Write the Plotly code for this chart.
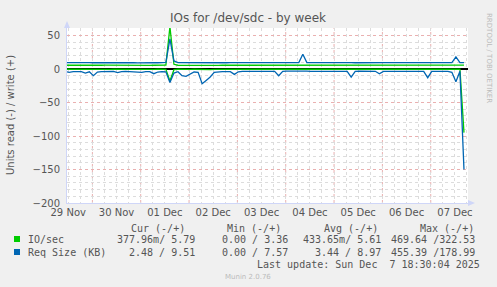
import pandas as pd
import plotly.graph_objects as go

# ---- data (2-hour samples ending 2025-12-07 18:30; last sample not yet available) ----
times = pd.date_range(end="2025-12-07 18:30", periods=101, freq="2h")

io_write = [5.6, 5.5, 5.7, 5.6, 5.5, 5.6, 5.8, 5.6, 5.5, 5.6,
            5.7, 5.6, 5.5, 5.6, 5.7, 5.6, 5.5, 5.6, 5.6, 5.7,
            5.6, 5.5, 5.6, 5.7, 5.6, 5.8, 63.0, 7.0, 5.6, 5.5,
            5.6, 5.7, 5.5, 5.6, 5.6, 5.5, 5.7, 5.6, 5.5, 5.6,
            5.6, 5.7, 5.6, 5.5, 5.6, 5.6, 5.7, 5.5, 5.6, 5.6,
            5.5, 5.6, 5.7, 5.6, 5.6, 5.5, 5.6, 5.7, 5.6, 5.6,
            5.7, 5.6, 5.5, 5.6, 5.6, 5.7, 5.6, 5.5, 5.6, 5.6,
            5.6, 5.5, 5.7, 5.6, 5.6, 5.5, 5.6, 5.6, 5.7, 5.6,
            5.5, 5.6, 5.6, 5.7, 5.6, 5.5, 5.6, 5.6, 5.7, 5.6,
            5.6, 5.5, 5.6, 5.7, 5.6, 5.6, 5.5, 6.0, 5.6, 5.79, None]

io_read = [-0.4, -0.5, -0.4, -0.4, -0.5, -0.6, -0.4, -0.8, -0.4, -0.4,
           -0.4, -0.5, -0.4, -0.5, -0.4, -0.4, -0.4, -0.5, -0.4, -0.5,
           -0.4, -0.4, -0.6, -0.4, -0.4, -0.5, -18.0, -1.0, -0.4, -0.8,
           -0.9, -0.6, -0.4, -0.5, -1.5, -1.2, -0.9, -0.5, -0.4, -0.4,
           -0.4, -0.4, -0.6, -0.4, -0.4, -0.4, -0.4, -0.4, -0.4, -0.4,
           -0.4, -0.4, -0.4, -0.7, -0.4, -0.4, -0.4, -0.4, -0.4, -0.5,
           -0.4, -0.4, -0.4, -0.4, -0.4, -0.4, -0.4, -0.4, -0.4, -0.4,
           -0.4, -0.7, -0.4, -0.4, -0.4, -0.4, -0.4, -0.4, -0.5, -0.4,
           -0.4, -0.4, -0.4, -0.4, -0.4, -0.4, -0.4, -0.4, -0.4, -0.4,
           -0.8, -0.4, -0.4, -0.4, -0.4, -0.4, -0.5, -1.2, -0.4, -95.0, None]

req_write = [9.5, 9.6, 9.4, 10.2, 9.5, 9.4, 9.6, 9.3, 9.5, 9.4,
             9.6, 9.5, 9.4, 9.5, 9.3, 9.6, 9.5, 9.4, 9.2, 9.5,
             9.4, 9.5, 9.6, 9.3, 9.4, 9.8, 45.0, 12.0, 9.6, 9.5,
             9.4, 9.5, 9.6, 9.4, 9.5, 9.3, 9.5, 9.6, 9.4, 9.5,
             9.3, 9.4, 9.6, 9.5, 9.8, 9.5, 9.4, 9.6, 9.5, 9.3,
             9.4, 9.5, 9.6, 9.4, 9.5, 9.6, 9.4, 9.3, 9.5, 22.0,
             9.6, 9.4, 9.5, 9.5, 9.4, 9.6, 9.5, 9.4, 9.5, 9.6,
             9.4, 9.5, 9.3, 9.5, 9.6, 9.4, 9.5, 9.5, 9.4, 9.6,
             9.5, 9.4, 9.3, 9.5, 9.6, 9.4, 9.5, 9.6, 9.5, 9.4,
             9.5, 9.6, 9.4, 9.5, 9.8, 9.5, 9.6, 18.0, 9.5, 9.51, None]

req_read = [-3.5, -5.0, -3.8, -3.6, -4.0, -6.0, -4.2, -10.0, -4.5, -3.8,
            -3.6, -4.2, -3.7, -5.5, -3.8, -3.6, -3.9, -4.1, -3.7, -5.0,
            -3.8, -4.0, -7.0, -4.5, -3.9, -4.2, -20.0, -6.0, -4.0, -10.0,
            -11.0, -8.0, -4.5, -5.0, -22.0, -17.0, -12.0, -5.0, -4.2, -4.0,
            -3.8, -4.0, -8.0, -4.2, -3.6, -3.5, -3.4, -3.6, -3.5, -3.3,
            -3.4, -3.6, -3.5, -10.0, -3.4, -3.3, -3.5, -3.6, -3.4, -3.5,
            -3.3, -3.4, -3.6, -3.5, -3.4, -3.3, -3.5, -3.6, -3.4, -3.5,
            -3.4, -12.0, -3.5, -3.3, -3.4, -3.6, -3.5, -3.4, -7.0, -3.5,
            -3.4, -3.3, -3.5, -3.6, -3.4, -3.5, -3.3, -3.4, -3.5, -3.6,
            -13.0, -3.5, -3.4, -3.3, -3.5, -3.6, -5.0, -19.0, -3.5, -150.0, None]

day_ticks = ["2025-11-29 12:00", "2025-11-30 12:00", "2025-12-01 12:00", "2025-12-02 12:00",
             "2025-12-03 12:00", "2025-12-04 12:00", "2025-12-05 12:00", "2025-12-06 12:00",
             "2025-12-07 12:00"]
day_labels = ["29 Nov", "30 Nov", "01 Dec", "02 Dec", "03 Dec", "04 Dec", "05 Dec", "06 Dec", "07 Dec"]
midnights = ["2025-11-30", "2025-12-01", "2025-12-02", "2025-12-03", "2025-12-04",
             "2025-12-05", "2025-12-06", "2025-12-07"]

legend_rows = [
    ("IO/sec", "#00cc00", ["377.96m/ 5.79", "0.00 / 3.36", "433.65m/ 5.61", "469.64 /322.53"]),
    ("Req Size (KB)", "#0066b3", ["2.48 / 9.51", "0.00 / 7.57", "3.44 / 8.97", "455.39 /178.99"]),
]
headers = ["Cur (-/+)", "Min (-/+)", "Avg (-/+)", "Max (-/+)"]

# ---- layout geometry (pixels) ----
W, H = 497, 287
L, R, T, B = 67, 468, 28, 203


def px(x):
    return (x - L) / (R - L)


def py(y):
    return (B - y) / (B - T)


GREEN = "#00cc00"
BLUE = "#0066b3"
TXT = "#555555"

fig = go.Figure()
fig.add_trace(go.Scatter(x=times, y=io_read, mode="lines", line=dict(color=GREEN, width=1.3), showlegend=False))
fig.add_trace(go.Scatter(x=times, y=io_write, mode="lines", line=dict(color=GREEN, width=1.3), showlegend=False))
fig.add_trace(go.Scatter(x=times, y=req_read, mode="lines", line=dict(color=BLUE, width=1.3), showlegend=False))
fig.add_trace(go.Scatter(x=times, y=req_write, mode="lines", line=dict(color=BLUE, width=1.3), showlegend=False))

shapes = []
for m in midnights:
    shapes.append(dict(type="line", xref="x", yref="paper", x0=m, x1=m, y0=0, y1=1,
                       line=dict(color="#eab0b0", width=1, dash="dot"), layer="between"))
# axis arrows
shapes.append(dict(type="path", xref="paper", yref="paper",
                   path=f"M {px(64)},{py(28)} L {px(70)},{py(28)} L {px(67)},{py(21)} Z",
                   fillcolor="#cfd6f8", line=dict(width=0)))
shapes.append(dict(type="path", xref="paper", yref="paper",
                   path=f"M {px(468)},{py(200)} L {px(468)},{py(206)} L {px(475)},{py(203)} Z",
                   fillcolor="#cfd6f8", line=dict(width=0)))
# legend squares
for i, (_, col, _) in enumerate(legend_rows):
    yc = 239 + 13 * i
    shapes.append(dict(type="rect", xref="paper", yref="paper",
                       x0=px(14), x1=px(20), y0=py(yc - 3), y1=py(yc + 3),
                       fillcolor=col, line=dict(width=0)))

ann = []
ann.append(dict(text="IOs for /dev/sdc - by week", x=px(248), y=py(18), xref="paper", yref="paper",
                showarrow=False, xanchor="center", yanchor="middle",
                font=dict(family="DejaVu Sans", size=12, color=TXT)))
ann.append(dict(text="Units read (-) / write (+)", x=px(10), y=py(115), xref="paper", yref="paper",
                showarrow=False, xanchor="center", yanchor="middle", textangle=-90,
                font=dict(family="DejaVu Sans", size=10, color=TXT)))
ann.append(dict(text="RRDTOOL / TOBI OETIKER", x=px(489), y=py(58), xref="paper", yref="paper",
                showarrow=False, xanchor="center", yanchor="middle", textangle=90,
                font=dict(family="DejaVu Sans", size=7, color="#bbbbbb")))
mono = dict(family="DejaVu Sans Mono", size=10, color=TXT)
for h, xr in zip(headers, [187, 283, 380, 476]):
    ann.append(dict(text=h.replace(" ", "\u00a0"), x=px(xr), y=py(228), xref="paper", yref="paper",
                    showarrow=False, xanchor="right", yanchor="middle", font=mono))
for i, (name, col, vals) in enumerate(legend_rows):
    yc = 239 + 13 * i
    ann.append(dict(text=name.replace(" ", "\u00a0"), x=px(26), y=py(yc), xref="paper", yref="paper",
                    showarrow=False, xanchor="left", yanchor="middle", font=mono))
    for v, xr in zip(vals, [197, 290, 383, 477]):
        ann.append(dict(text=v.replace(" ", "\u00a0"), x=px(xr), y=py(yc), xref="paper", yref="paper",
                        showarrow=False, xanchor="right", yanchor="middle", font=mono))
ann.append(dict(text="Last update: Sun Dec\u00a0\u00a07 18:30:04 2025".replace(" ", "\u00a0"),
                x=px(482), y=py(264), xref="paper", yref="paper",
                showarrow=False, xanchor="right", yanchor="middle", font=mono))
ann.append(dict(text="Munin 2.0.76", x=px(248), y=py(277), xref="paper", yref="paper",
                showarrow=False, xanchor="center", yanchor="middle",
                font=dict(family="DejaVu Sans", size=7, color="#bbbbbb")))

fig.update_layout(
    width=W, height=H,
    margin=dict(l=L, r=W - R, t=T, b=H - B, pad=0),
    paper_bgcolor="#f0f0f0", plot_bgcolor="#ffffff",
    showlegend=False,
    shapes=shapes, annotations=ann,
    xaxis=dict(range=["2025-11-29 11:24", "2025-12-07 18:30"],
               tickmode="array", tickvals=day_ticks, ticktext=day_labels,
               ticks="", showgrid=False, zeroline=False,
               showline=True, linecolor="#cfd6f8", linewidth=1,
               tickfont=dict(family="DejaVu Sans", size=10, color=TXT),
               minor=dict(tickmode="linear", tick0="2025-11-29 00:00", dtick=6 * 3600 * 1000,
                          showgrid=True, gridcolor="#dcdcdc", griddash="dot", gridwidth=1, ticks=""),
               fixedrange=True),
    yaxis=dict(range=[-200, 61.2], tickmode="linear", tick0=-200, dtick=50,
               ticks="", showgrid=True, gridcolor="#eab0b0", griddash="dot", gridwidth=1,
               zeroline=True, zerolinecolor="#000000", zerolinewidth=1.5,
               showline=True, linecolor="#cfd6f8", linewidth=1,
               tickfont=dict(family="DejaVu Sans", size=10, color=TXT),
               ticklabelstandoff=4,
               minor=dict(tickmode="linear", tick0=-200, dtick=10, showgrid=True,
                          gridcolor="#dcdcdc", griddash="dot", gridwidth=1, ticks=""),
               fixedrange=True),
)

fig.write_html("out.html")
